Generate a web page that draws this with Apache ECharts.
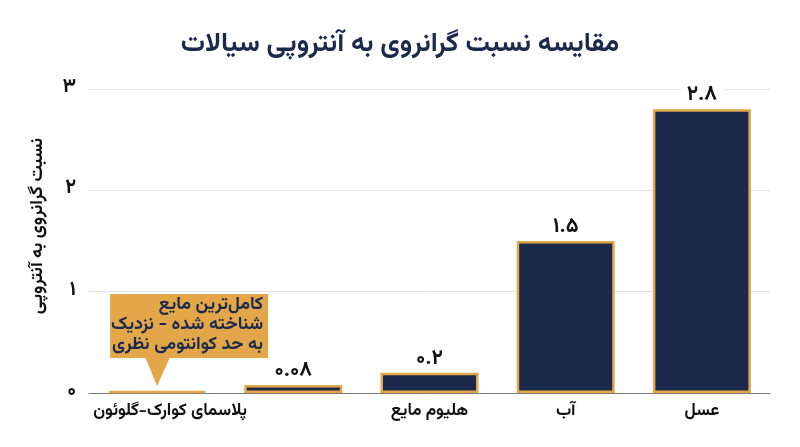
<!DOCTYPE html>
<html><head><meta charset="utf-8">
<script src="https://cdn.jsdelivr.net/npm/echarts@6/dist/echarts.min.js"></script>
<style>html,body{margin:0;padding:0;background:#fff}#c{width:800px;height:447px}</style>
</head><body><div id="c"></div>
<script>
const categories = ['پلاسمای کوارک-گلوئون', '', 'هلیوم مایع', 'آب', 'عسل'];
const values = [0.02, 0.08, 0.2, 1.5, 2.8];
const yTicks = [0, 1, 2, 3];
const titleText = 'مقایسه نسبت گرانروی به آنتروپی سیالات';
const yName = 'نسبت گرانروی به آنتروپی';
const calloutText = 'کامل‌ترین مایع\nشناخته شده - نزدیک\nبه حد کوانتومی نظری';

const NAVY = '#1b2a4c', GOLD = '#e3a74a';
const FONT = 'Vazirmatn, "Noto Sans Arabic", "DejaVu Sans", sans-serif';
const toFa = s => String(s).replace(/\d/g, d => '۰۱۲۳۴۵۶۷۸۹'[d]);

const chart = echarts.init(document.getElementById('c'));
chart.setOption({
  backgroundColor: '#fff',
  textStyle: { fontFamily: FONT },
  title: { text: titleText, left: 'center', top: 28,
    textStyle: { fontFamily: FONT, fontSize: 27, fontWeight: 'bold', color: NAVY } },
  grid: { left: 89, right: 30, top: 89, bottom: 54 },
  xAxis: { type: 'category',
    data: categories.map((c, i) => i === 0 ? { value: c, textStyle: { padding: [0, 0, 0, 26] } } : c),
    axisLine: { lineStyle: { color: '#777', width: 1 } }, axisTick: { show: false },
    axisLabel: { interval: 0, margin: 11, fontFamily: FONT, fontSize: 17, fontWeight: 'bold', color: '#111' } },
  yAxis: { type: 'value', min: yTicks[0], max: yTicks[yTicks.length - 1], interval: 1,
    name: yName, nameLocation: 'middle', nameGap: 41, nameRotate: 90,
    nameTextStyle: { fontFamily: FONT, fontSize: 18, fontWeight: 'bold', color: '#111', padding: [0, 0, 0, 30] },
    axisLabel: { formatter: v => toFa(v), fontFamily: FONT, fontSize: 20, fontWeight: 'bold', color: '#111', margin: 13 },
    splitLine: { lineStyle: { color: '#e2e2e2' } } },
  series: [{
    type: 'bar', barWidth: 98,
    data: values.map((v, i) => i === 0 ? {
      value: v, itemStyle: { color: GOLD, borderColor: GOLD, borderRadius: [6, 6, 0, 0] }, label: { show: false }
    } : v),
    itemStyle: { color: NAVY, borderColor: GOLD, borderWidth: 2.5 },
    label: { show: true, position: 'top', distance: 2, formatter: p => toFa(p.value),
      fontFamily: FONT, fontSize: 21, fontWeight: 'bold', color: '#111',
      backgroundColor: '#fff', padding: [0, 6] }
  }]
});

const tip = chart.convertToPixel({ xAxisIndex: 0, yAxisIndex: 0 }, [0, values[0]]);
const tx = tip[0], ty = tip[1] - 5;
const boxL = tx - 47, boxW = 158, boxH = 64, boxT = ty - 28 - boxH, boxB = boxT + boxH;
chart.setOption({
  graphic: [
    { type: 'rect', shape: { x: boxL, y: boxT, width: boxW, height: boxH }, style: { fill: GOLD } },
    { type: 'polygon', shape: { points: [[tx - 12, boxB - 1], [tx + 13, boxB - 1], [tx, ty]] }, style: { fill: GOLD } },
    { type: 'text', style: { text: calloutText, x: boxL + boxW - 5, y: boxT + 2, align: 'right', verticalAlign: 'top',
      fontFamily: FONT, fontSize: 18, fontWeight: 'bold', lineHeight: 20, fill: NAVY } }
  ]
});
</script></body></html>
